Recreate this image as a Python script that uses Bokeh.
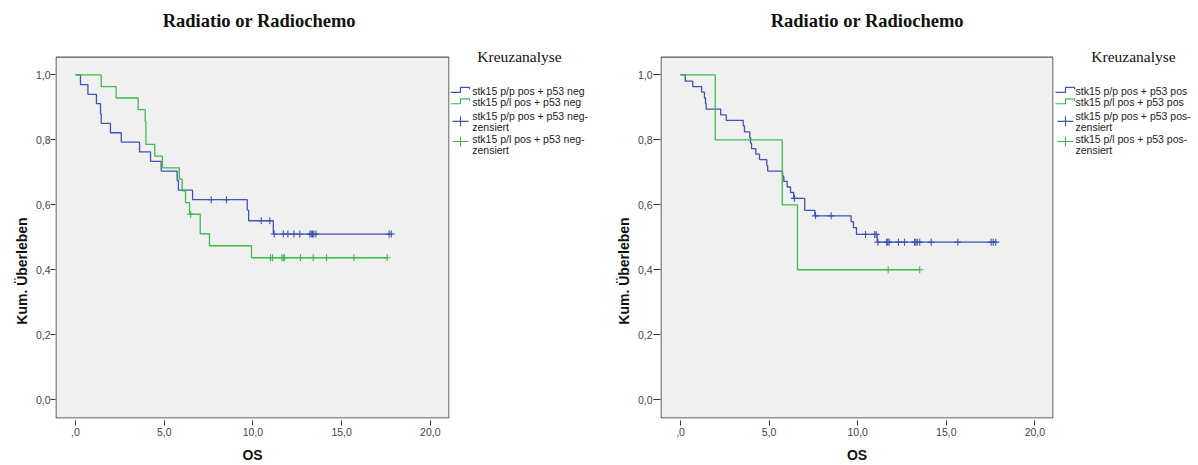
import numpy as np
from bokeh.plotting import figure
from bokeh.layouts import row
from bokeh.models import Range1d, FixedTicker
from bokeh.core.properties import value
from bokeh.embed import file_html
from bokeh.resources import INLINE

# ---------------- texts ----------------
TITLE = "Radiatio or Radiochemo"
LEGEND_TITLE = "Kreuzanalyse"
X_LABEL = "OS"
Y_LABEL = "Kum. Überleben"
x_ticks = [0, 5, 10, 15, 20]
x_tick_labels = [",0", "5,0", "10,0", "15,0", "20,0"]
y_ticks = [0.0, 0.2, 0.4, 0.6, 0.8, 1.0]
y_tick_labels = ["0,0", "0,2", "0,4", "0,6", "0,8", "1,0"]

# ---------------- left panel: p53 neg ----------------
left_legend = [["stk15 p/p pos + p53 neg"],
               ["stk15 p/l pos + p53 neg"],
               ["stk15 p/p pos + p53 neg-", "zensiert"],
               ["stk15 p/l pos + p53 neg-", "zensiert"]]

L_pp_times = [0, 0.28, 0.70, 1.18, 1.41, 1.45, 1.97, 2.58, 3.61, 4.23, 4.83,
              5.73, 5.80, 6.60, 9.68, 9.76, 11.15]
L_pp_surv = [1.0, 0.970, 0.940, 0.912, 0.881, 0.851, 0.822, 0.793, 0.763, 0.734,
             0.704, 0.675, 0.645, 0.616, 0.584, 0.551, 0.510]
L_pp_cens = [7.65, 8.51, 10.47, 10.95, 11.20, 11.71, 11.97, 12.31, 12.64, 13.21,
             13.29, 13.36, 13.43, 13.55, 17.68, 17.80]

L_pl_times = [0, 1.45, 2.29, 3.53, 3.93, 3.97, 4.47, 4.90, 5.85, 6.01, 6.20, 6.43,
              7.03, 7.55, 9.92]
L_pl_surv = [1.0, 0.964, 0.929, 0.893, 0.857, 0.786, 0.750, 0.714, 0.679, 0.643,
             0.607, 0.571, 0.511, 0.474, 0.437]
L_pl_cens = [6.49, 10.99, 11.10, 11.63, 11.71, 11.78, 12.68, 13.40, 14.15, 15.69,
             17.57]

# ---------------- right panel: p53 pos ----------------
right_legend = [["stk15 p/p pos + p53 pos"],
                ["stk15 p/l pos + p53 pos"],
                ["stk15 p/p pos + p53 pos-", "zensiert"],
                ["stk15 p/l pos + p53 pos-", "zensiert"]]

R_pp_times = [0, 0.27, 0.69, 1.19, 1.35, 1.41, 1.45, 2.27, 2.58, 3.54, 3.61, 3.91,
              3.95, 4.01, 4.25, 4.46, 4.87, 4.92, 5.76, 5.83, 6.02, 6.21, 6.39,
              7.01, 7.58, 9.63, 9.76, 9.93, 11.10]
R_pp_surv = [1.0, 0.981, 0.964, 0.947, 0.929, 0.912, 0.895, 0.877, 0.860, 0.843,
             0.825, 0.808, 0.790, 0.773, 0.756, 0.739, 0.721, 0.704, 0.688, 0.672,
             0.655, 0.638, 0.620, 0.583, 0.566, 0.548, 0.530, 0.509, 0.485]
R_pp_cens = [6.43, 7.62, 8.50, 10.44, 10.96, 11.04, 11.14, 11.63, 11.70, 11.78,
             12.30, 12.64, 13.21, 13.28, 13.36, 13.50, 14.15, 15.65, 17.53, 17.65,
             17.79]

R_pl_times = [0, 1.96, 5.74, 6.60]
R_pl_surv = [1.0, 0.8, 0.6, 0.4]
R_pl_cens = [11.72, 13.50]

BLUE = "#3e54b0"
GREEN = "#3fba4b"
BG = "#f0f0f0"
FIG_H = 465
BOTTOM = 421                 # bottom edge of the plot area (px)
PX_PER_Y = 327.0             # px per survival unit
Y0 = -0.0581                 # value at plot-area bottom
Y_AREA_TOP = 1.055           # value at plot-area top (grey box)
Y_TOP = Y0 + BOTTOM / PX_PER_Y   # value at canvas top


def surv_at(times, surv, t):
    idx = np.searchsorted(np.asarray(times), np.asarray(t), side="right") - 1
    return list(np.asarray(surv)[idx])


def draw_curve(p, times, surv, cens, color):
    end = max(max(times), max(cens)) if cens else max(times)
    xs = list(times) + [end]
    ys = list(surv) + [surv[-1]]
    p.step(xs, ys, mode="after", line_color=color, line_width=1.3)
    p.scatter(cens, surv_at(times, surv, cens), marker="cross", size=7,
              line_color=color, line_width=1.1)


def base_fig(width, x_range, y_range, border_left=0, border_right=0):
    f = figure(width=width, height=FIG_H, output_backend="svg",
               toolbar_location=None, x_range=x_range, y_range=y_range,
               min_border_left=border_left, min_border_right=border_right,
               min_border_top=0, min_border_bottom=FIG_H - BOTTOM)
    f.grid.visible = False
    f.outline_line_color = None
    f.background_fill_color = "white"
    f.border_fill_color = "white"
    return f


def make_panel(curves, border_left, frame_w, x_start, x_end, x_px, title_x,
               ytick_out, ystandoff):
    p = base_fig(border_left + frame_w + 1, Range1d(x_start, x_end),
                 Range1d(Y0, Y_TOP), border_left, 1)
    # grey plot area with dark frame (inset half a pixel)
    hx = 0.5 / x_px
    hy = 0.5 / PX_PER_Y
    p.quad(left=[x_start + hx], right=[x_end - hx], bottom=[Y0 + hy],
           top=[Y_AREA_TOP], fill_color=BG, line_color="#333333", line_width=1)

    for ax in (p.xaxis[0], p.yaxis[0]):
        ax.axis_line_color = None
        ax.major_tick_line_color = "#333333"
        ax.minor_tick_line_color = None
        ax.major_label_text_font = "Liberation Sans"
        ax.major_label_text_font_size = "10.5px"
        ax.major_label_text_color = "#444444"

    xa = p.xaxis[0]
    xa.ticker = FixedTicker(ticks=x_ticks)
    xa.major_label_overrides = {t: l for t, l in zip(x_ticks, x_tick_labels)}
    xa.major_tick_in = -2
    xa.major_tick_out = 7
    xa.major_label_standoff = 2
    xa.axis_label = X_LABEL
    xa.axis_label_text_font = "Liberation Sans"
    xa.axis_label_text_font_style = "bold"
    xa.axis_label_text_font_size = "14px"
    xa.axis_label_text_color = "#111111"
    xa.axis_label_standoff = 8

    ya = p.yaxis[0]
    ya.ticker = FixedTicker(ticks=y_ticks)
    ya.major_label_overrides = {t: l for t, l in zip(y_ticks, y_tick_labels)}
    ya.major_tick_in = 0
    ya.major_tick_out = ytick_out
    ya.major_label_standoff = ystandoff

    for times, surv, cens, color in curves:
        draw_curve(p, times, surv, cens, color)

    p.text([title_x], [1.165], text=[TITLE], text_align="center",
           text_baseline="middle", text_font=value("Liberation Serif"),
           text_font_style="bold", text_font_size="18.5px", text_color="#111111")
    return p


def make_ylabel(x0, width, label_x):
    f = base_fig(width, Range1d(x0, x0 + width), Range1d(0, BOTTOM))
    f.axis.visible = False
    f.text([label_x], [BOTTOM - 272.5], text=[Y_LABEL], angle=np.pi / 2,
           text_align="center", text_baseline="middle",
           text_font=value("Liberation Sans"), text_font_style="bold",
           text_font_size="14px", text_color="#111111")
    return f


def make_legend(x0, width, labels, title_dx, icon_dx, text_dx):
    q = base_fig(width, Range1d(x0, x0 + width), Range1d(BOTTOM, 0))
    q.axis.visible = False

    q.text([x0 + title_dx], [56.5], text=[LEGEND_TITLE],
           text_font=value("Liberation Serif"), text_font_size="15.5px",
           text_align="center", text_baseline="middle", text_color="#111111")

    line_y = [[91.0], [102.3], [116.0, 127.3], [139.0, 150.5]]
    xs, ys, ts = [], [], []
    for lab, yy in zip(labels, line_y):
        for t, y in zip(lab, yy):
            xs.append(x0 + text_dx)
            ys.append(y)
            ts.append(t)
    q.text(xs, ys, text=ts, text_font=value("Liberation Sans"),
           text_font_size="10.5px", text_baseline="middle", text_color="#222222")

    a = x0 + icon_dx
    for yb, col in ((92.5, BLUE), (104.0, GREEN)):
        q.line([a, a + 10, a + 10, a + 19, a + 19], [yb, yb, yb - 5, yb - 5, yb - 3],
               line_color=col, line_width=1.2)
    for yc, col in ((121.7, BLUE), (142.0, GREEN)):
        q.line([a + 2, a + 18], [yc, yc], line_color=col, line_width=1.1)
        q.line([a + 10, a + 10], [yc - 5, yc + 5], line_color=col, line_width=1.1)
    return q


ylab_left = make_ylabel(0, 31, 21.5)
left = make_panel([(L_pp_times, L_pp_surv, L_pp_cens, BLUE),
                   (L_pl_times, L_pl_surv, L_pl_cens, GREEN)],
                  border_left=24, frame_w=394, x_start=-1.127, x_end=21.08,
                  x_px=17.74, title_x=10.36, ytick_out=5, ystandoff=0)
leg_left = make_legend(450, 150, left_legend, 69, 0, 21.7)

ylab_right = make_ylabel(600, 33, 623.5)
right = make_panel([(R_pp_times, R_pp_surv, R_pp_cens, BLUE),
                    (R_pl_times, R_pl_surv, R_pl_cens, GREEN)],
                   border_left=27, frame_w=393, x_start=-1.129, x_end=21.05,
                   x_px=17.72, title_x=10.54, ytick_out=7, ystandoff=1)
leg_right = make_legend(1054, 140, right_legend, 79, 1, 21)

layout = row(ylab_left, left, leg_left, ylab_right, right, leg_right)
open("out.html", "w").write(file_html(layout, INLINE))
